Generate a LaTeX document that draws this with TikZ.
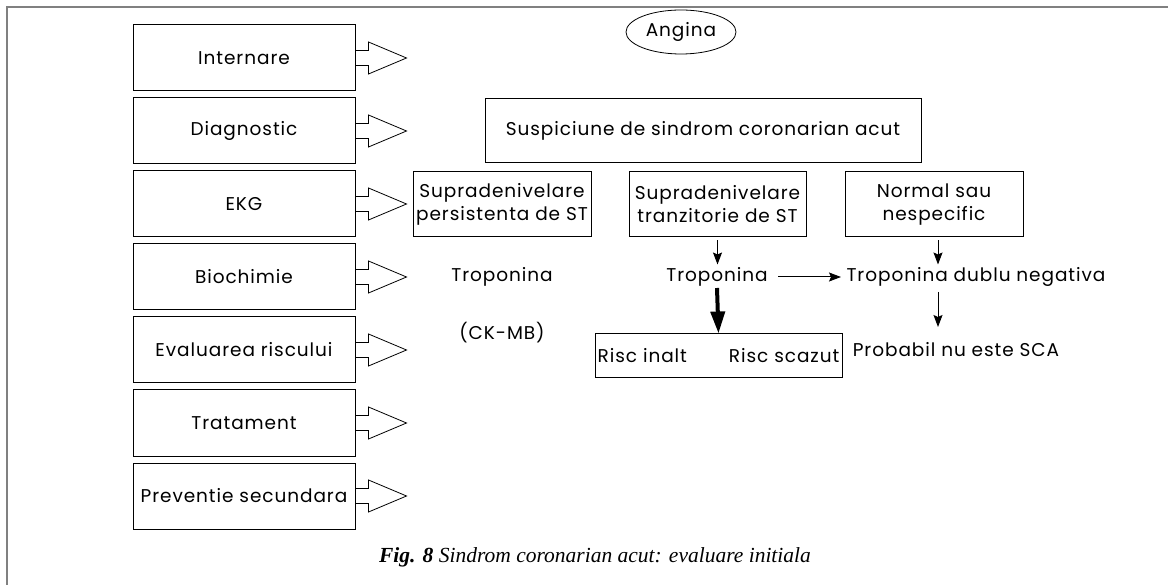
\documentclass[tikz,border=0pt]{standalone}
\usepackage{fontspec}
\setmainfont{Poppins}[LetterSpace=5]
\newfontfamily\capfont{Liberation Serif}
\usetikzlibrary{arrows.meta,calc,shapes.geometric}
\tikzset{
  fnt/.style={font=\fontsize{18.5}{23}\selectfont},
  lbox/.style={draw, line width=1pt, minimum width=222pt, minimum height=66pt, inner sep=0pt, fnt},
  rbox/.style={draw, line width=1pt, minimum height=65pt, inner sep=0pt, align=center, fnt},
  txt/.style={inner sep=0pt, fnt},
  blockarrow/.style={draw, line width=0.8pt, line join=miter},
  thinarrow/.style={line width=1pt, -{Stealth[length=12pt,width=9pt,inset=2pt]}},
  thickarrow/.style={line width=4pt, -{Triangle[length=22pt,width=14pt]}},
}
\begin{document}
\begin{tikzpicture}[x=1pt,y=-1pt]
\useasboundingbox (0,0) rectangle (1168,585);
\draw[gray, line width=2pt] (6.7,585) -- (6.7,7.3) -- (1168,7.3);
% left column
\foreach \n/\t/\y in {l1/Internare/58, l2/Diagnostic/131, l3/EKG/204, l4/Biochimie/277, l5/Evaluarea riscului/350, l6/Tratament/423, l7/Preventie secundara/496}{
  \node[lbox] (\n) at (244,\y) {\t};
  \draw[blockarrow] ($(\n.east)+(0,-7.5)$) -- ++(13,0) -- ++(0,-8.5) -- ++(38,16) -- ++(-38,16) -- ++(0,-8.5) -- ++(-13,0);
}
% right part
\node[draw, ellipse, line width=0.8pt, minimum width=110pt, minimum height=44pt, inner sep=0pt, fnt] (ang) at (681,32) {Angina};
\node[rbox, minimum width=436pt, minimum height=64pt] (sus) at (703,131) {Suspiciune de sindrom coronarian acut};
\node[rbox, minimum width=178pt] (pa) at (502,204.5) {Supradenivelare\\persistenta de ST};
\node[rbox, minimum width=177pt] (pb) at (717.5,204.5) {Supradenivelare\\tranzitorie de ST};
\node[rbox, minimum width=178pt] (pc) at (934,204.5) {Normal sau\\nespecific};
\node[txt] (t1) at (502,277) {Troponina};
\node[txt] (ck) at (502,333) {(CK-MB)};
\node[txt] (t2) at (717,277) {Troponina};
\node[txt] (t3) at (976,277) {Troponina dublu negativa};
\node[draw, line width=1pt, minimum width=247pt, minimum height=44pt, inner sep=0pt] (risk) at (718.5,356) {};
\node[txt, anchor=west] (rh) at ($(risk.west)+(3,0)$) {Risc inalt};
\node[txt, anchor=east] (rl) at ($(risk.east)+(-3,0)$) {Risc scazut};
\node[txt] (prob) at (956,350) {Probabil nu este SCA};
% connectors
\draw[thinarrow] ($(pb.south)+(0,3)$) -- ($(pb.south)+(0,27)$) coordinate (c1);
\draw[thickarrow] (717,288) -- (risk.north);
\draw[thinarrow] (778,277) -- (841,277);
\draw[thinarrow] ($(pc.south)+(4,3)$) -- ($(pc.south)+(4,27)$) coordinate (c2);
\draw[thinarrow] (938,292) -- (938,327);
% caption
\node[font=\capfont\fontsize{21.5}{24}\selectfont\itshape] (cap) at (595,557) {\textbf{Fig. 8} Sindrom coronarian acut: evaluare initiala};
\end{tikzpicture}
\end{document}
